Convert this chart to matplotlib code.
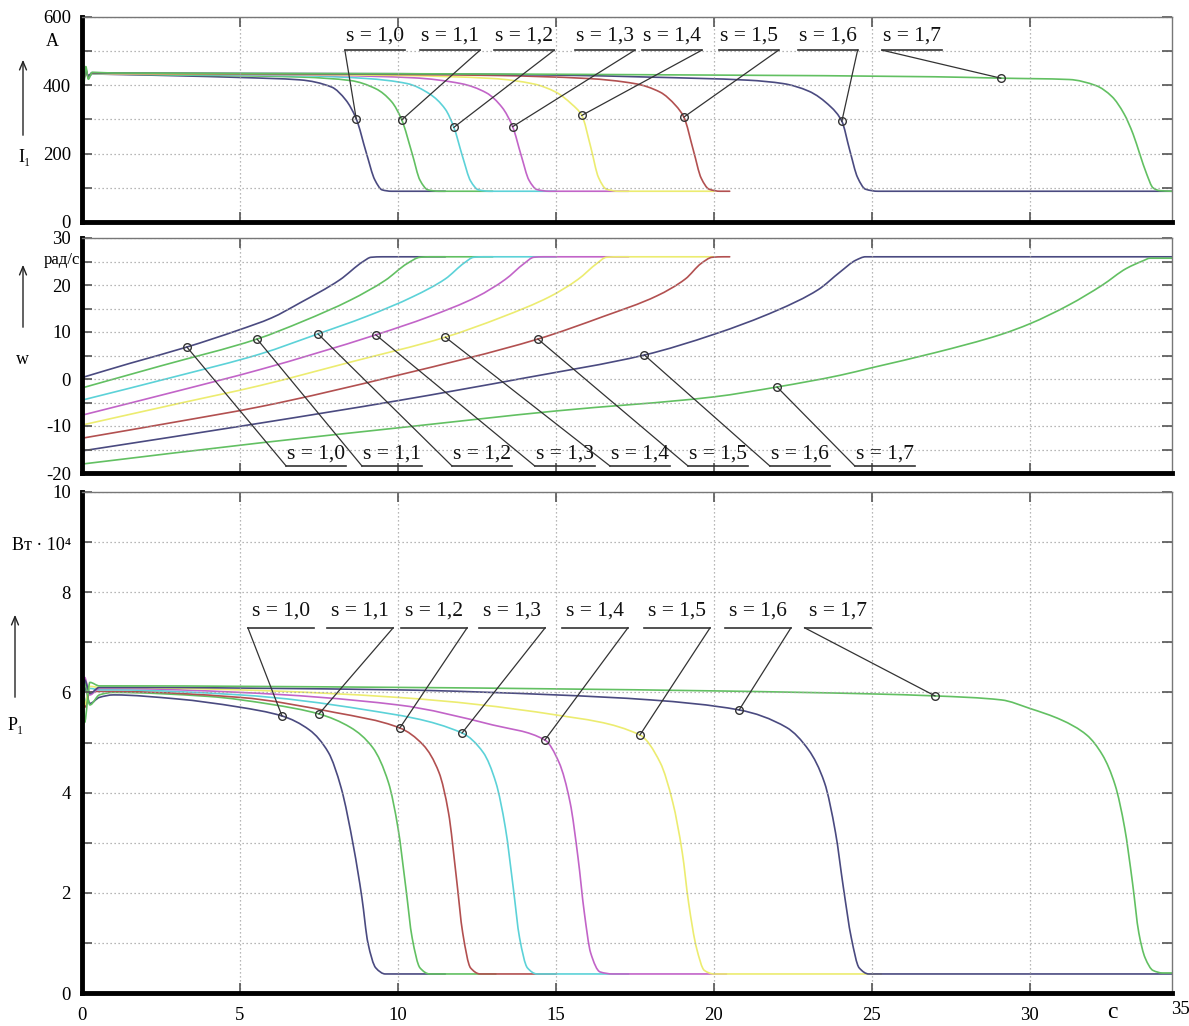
import numpy as np
import matplotlib
matplotlib.use("Agg")
import matplotlib.pyplot as plt
from matplotlib.path import Path
from matplotlib.patches import PathPatch, FancyArrowPatch

SERIF = ['Liberation Serif', 'DejaVu Serif']
plt.rcParams['font.family'] = SERIF

s_labels = ["s = 1,0", "s = 1,1", "s = 1,2", "s = 1,3", "s = 1,4", "s = 1,5", "s = 1,6", "s = 1,7"]

# ---------------- I1 (A) ----------------
I1_s10 = [(0,452),(0.05,418),(0.12,444),(0.2,425),(0.32,433),(1,432),(3,428),(5,423),(6.9,416),(7.9,395),(8.35,357),(8.68,302),(9.0,202),(9.27,123),(9.5,94),(9.8,90),(11.5,90)]
I1_s11 = [(0,445),(0.05,420),(0.12,442),(0.2,427),(0.32,433),(1,433),(3,430),(5,428),(7,424),(8.5,414),(9.3,390),(9.8,352),(10.12,299),(10.45,200),(10.7,122),(10.95,94),(11.3,90),(13,90)]
I1_s12 = [(0,460),(0.05,410),(0.12,448),(0.2,422),(0.32,434),(1,433),(4,431),(7,428),(9,420),(10.3,405),(11.0,375),(11.5,330),(11.77,277),(12.05,190),(12.3,120),(12.55,94),(12.9,90),(15,90)]
I1_s13 = [(0,448),(0.05,416),(0.12,443),(0.2,426),(0.32,435),(1,434),(5,432),(8,429),(10.5,422),(12.0,405),(12.8,378),(13.3,335),(13.63,279),(13.9,195),(14.15,122),(14.4,95),(14.8,90),(17.3,90)]
I1_s14 = [(0,455),(0.05,414),(0.12,445),(0.2,424),(0.32,435),(1,434),(6,432),(10,429),(13,420),(14.3,404),(15.0,380),(15.5,345),(15.82,312),(16.1,220),(16.35,130),(16.6,96),(17,90),(20,90)]
I1_s15 = [(0,450),(0.05,418),(0.12,443),(0.2,426),(0.32,436),(1,435),(8,433),(13,429),(16,420),(17.5,405),(18.3,380),(18.8,340),(19.05,307),(19.35,210),(19.6,128),(19.85,96),(20.2,90),(20.5,90)]
I1_s16 = [(0,446),(0.05,420),(0.12,441),(0.2,428),(0.32,437),(1,436),(10,434),(15,430),(18,424),(21.1,415),(22.2,405),(23.0,383),(23.7,337),(24.05,295),(24.3,210),(24.55,130),(24.8,96),(25.2,90),(34.5,90)]
I1_s17 = [(0,470),(0.05,400),(0.12,455),(0.2,418),(0.32,438),(1,436),(10,434),(20,430),(27,425),(29.08,421),(31.25,417),(32.1,399),(32.6,367),(32.98,317),(33.27,257),(33.48,199),(33.7,140),(33.9,100),(34.1,92),(34.5,90)]
I1_markers = [8.68, 10.12, 11.77, 13.63, 15.82, 19.05, 24.05, 29.08]

# ---------------- w (rad/s) ----------------
w_s10 = [(0,0.3),(1.5,3.3),(3.32,6.8),(4.95,10.4),(6.0,13.0),(6.9,16.2),(8.16,21.1),(8.9,25.0),(9.15,25.9),(9.5,26),(11.5,26)]
w_s11 = [(0,-1.9),(2.5,2.8),(5.54,8.5),(7,12.3),(8.5,16.8),(9.6,21.0),(10.3,24.6),(10.7,25.9),(11,26),(13,26)]
w_s12 = [(0,-4.5),(3,0.6),(5.63,5.3),(7.47,9.6),(9,13.3),(10.5,17.6),(11.5,21.3),(12.1,24.7),(12.4,25.9),(12.7,26),(15,26)]
w_s13 = [(0,-7.7),(3,-2.6),(5.63,2.0),(9.3,9.4),(11,13.3),(12.5,17.5),(13.4,21.2),(14.0,24.6),(14.3,25.9),(14.6,26),(17.3,26)]
w_s14 = [(0,-9.8),(3,-5.3),(5.63,-1.4),(8.5,3.6),(11.5,8.9),(13.3,13.2),(14.8,17.5),(15.7,21.2),(16.3,24.6),(16.6,25.9),(17,26),(20,26)]
w_s15 = [(0,-12.6),(3,-9.1),(5.63,-5.9),(10,0.8),(14.43,8.5),(16.5,13.3),(18.2,17.7),(19.1,21.3),(19.6,24.6),(19.95,25.9),(20.3,26),(20.5,26)]
w_s16 = [(0,-15.3),(5.63,-9.4),(10,-4.6),(14,0.2),(17.8,5.1),(20,9.5),(22,14.6),(23.3,19),(24.0,22.8),(24.5,25.3),(24.8,26),(34.5,26)]
w_s17 = [(0,-18.1),(5.63,-13.6),(10,-10.4),(15,-6.8),(20,-3.8),(22,-1.7),(24,0.8),(25,2.4),(27,5.6),(29.1,9.5),(30,11.75),(31.25,15.8),(32.3,20),(33.05,23.5),(33.6,25.2),(33.8,25.7),(34.5,25.7)]
w_markers = [3.32, 5.54, 7.47, 9.3, 11.5, 14.43, 17.8, 22.0]

# ---------------- P1 (W*10^4) ----------------
P_s10 = [(0,5.45),(0.08,6.1),(0.25,5.78),(0.55,5.9),(1,5.95),(3,5.87),(4.94,5.71),(6.33,5.53),(7.2,5.25),(7.8,4.8),(8.2,4.1),(8.6,2.9),(8.86,1.9),(9.05,1.0),(9.3,0.5),(9.6,0.38),(11.5,0.38)]
P_s11 = [(0,5.6),(0.08,6.2),(0.25,5.75),(0.55,5.95),(1,6.0),(4,5.92),(6,5.76),(7.5,5.57),(8.5,5.3),(9.2,4.9),(9.7,4.2),(10.0,3.3),(10.25,2.1),(10.45,1.1),(10.7,0.5),(11.0,0.38),(13.1,0.38)]
P_s12 = [(0,6.55),(0.08,5.7),(0.25,6.0),(0.55,6.02),(1,6.02),(5,5.9),(8,5.6),(10.06,5.29),(10.8,4.95),(11.3,4.4),(11.6,3.6),(11.85,2.3),(12.05,1.2),(12.3,0.5),(12.6,0.38),(15,0.38)]
P_s13 = [(0,6.3),(0.08,5.8),(0.25,6.08),(0.55,6.05),(1,6.05),(5,5.95),(9,5.65),(12.03,5.19),(12.7,4.8),(13.1,4.2),(13.4,3.3),(13.65,2.1),(13.85,1.1),(14.1,0.5),(14.4,0.38),(17.3,0.38)]
P_s14 = [(0,5.7),(0.08,6.3),(0.25,5.95),(0.55,6.08),(1,6.08),(5,6.0),(10,5.75),(13,5.35),(14.65,5.05),(15.1,4.6),(15.45,3.8),(15.7,2.7),(15.9,1.6),(16.1,0.8),(16.4,0.42),(16.8,0.38),(20.4,0.38)]
P_s15 = [(0,6.4),(0.08,5.75),(0.25,6.12),(0.55,6.1),(1,6.1),(5,6.05),(10,5.9),(15,5.55),(17.66,5.15),(18.3,4.6),(18.7,3.8),(19.0,2.8),(19.2,1.8),(19.45,0.9),(19.7,0.45),(20,0.38),(25.3,0.38)]
P_s16 = [(0,5.5),(0.08,6.25),(0.25,5.98),(0.55,6.1),(1,6.1),(10,6.05),(15,5.95),(18,5.85),(20.8,5.65),(22.3,5.3),(23.0,4.85),(23.5,4.2),(23.85,3.2),(24.1,2.1),(24.35,1.1),(24.6,0.5),(24.9,0.38),(34.5,0.38)]
P_s17 = [(0,6.6),(0.08,5.4),(0.25,6.2),(0.55,6.13),(1,6.13),(10,6.1),(20,6.03),(25,5.97),(27,5.93),(29.1,5.85),(30,5.68),(31,5.45),(31.8,5.15),(32.3,4.75),(32.7,4.15),(33.0,3.3),(33.25,2.2),(33.45,1.2),(33.65,0.7),(33.9,0.45),(34.2,0.4),(34.5,0.4)]
P_markers = [6.33, 7.5, 10.06, 12.03, 14.65, 17.66, 20.8, 27.0]

# colours
NAVY, GREEN, CYAN, MAG, YEL, RED = '#4a4a80', '#62c062', '#5cd2d8', '#c264c8', '#ecec70', '#b25050'
I1_colors = [NAVY, GREEN, CYAN, MAG, YEL, RED, NAVY, GREEN]
w_colors = [NAVY, GREEN, CYAN, MAG, YEL, RED, NAVY, GREEN]
P_colors = [NAVY, GREEN, RED, CYAN, MAG, YEL, NAVY, GREEN]

# label layout (data coords)
I1_lab_x = [9.27, 11.65, 14.0, 16.55, 18.67, 21.1, 23.6, 26.27]
I1_lab_side = ['left', 'right', 'right', 'right', 'right', 'right', 'right', 'left']
w_lab_x = [7.41, 9.81, 12.66, 15.28, 17.66, 20.13, 22.72, 25.41]
w_lab_side = ['left'] * 8
P_lab_x = [6.30, 8.80, 11.14, 13.61, 16.23, 18.83, 21.39, 23.92]
P_lab_side = ['left', 'right', 'right', 'right', 'right', 'right', 'right', 'left']

XMAX = 34.5
W, H = 1189, 1026
fig = plt.figure(figsize=(W / 100, H / 100), dpi=100)


def rect(x0, y0, x1, y1):
    return [x0 / W, 1 - y1 / H, (x1 - x0) / W, (y1 - y0) / H]


ax1 = fig.add_axes(rect(82, 17, 1172, 222))
ax2 = fig.add_axes(rect(82, 238, 1172, 473))
ax3 = fig.add_axes(rect(82, 492, 1172, 993))


def style(ax, ylim, ymajor, ygrid, xlabels):
    ax.set_xlim(0, XMAX)
    ax.set_ylim(*ylim)
    ax.set_yticks(ymajor)
    ax.set_yticklabels([str(v) for v in ymajor], fontsize=13.5)
    ax.set_yticks(ygrid, minor=True)
    ax.set_xticks(np.arange(0, 31, 5))
    ax.grid(True, which='both', axis='y', linestyle=(0, (1, 2.2)), color='#a0a0a0', lw=0.9)
    ax.grid(True, which='major', axis='x', linestyle=(0, (1, 2.2)), color='#a0a0a0', lw=0.9)
    for sp in ['left', 'bottom']:
        ax.spines[sp].set_linewidth(3.5)
        ax.spines[sp].set_color('black')
    for sp in ['top', 'right']:
        ax.spines[sp].set_linewidth(1.0)
        ax.spines[sp].set_color('#777777')
    ax.tick_params(axis='both', which='both', direction='in', length=7, width=1.2, color='#555555',
                   right=True, top=True, pad=8)
    ax.tick_params(axis='y', which='minor', length=7)
    if xlabels:
        ax.set_xticklabels([str(v) for v in range(0, 31, 5)], fontsize=13.5)
        ax.tick_params(axis='x', pad=10)
    else:
        ax.set_xticklabels([])


style(ax1, (0, 600), [0, 200, 400, 600], np.arange(0, 601, 100), False)
style(ax2, (-20, 30), [-20, -10, 0, 10, 20, 30], np.arange(-20, 31, 5), False)
style(ax3, (0, 10), [0, 2, 4, 6, 8, 10], np.arange(0, 11, 1), True)


def smooth_path(x, y):
    """Monotone (PCHIP-style) cubic Bezier path through the read points."""
    n = len(x)
    h = np.diff(x)
    d = np.diff(y) / h
    m = np.zeros(n)
    m[0], m[-1] = d[0], d[-1]
    for k in range(1, n - 1):
        if d[k - 1] * d[k] <= 0:
            m[k] = 0.0
        else:
            w1 = 2 * h[k] + h[k - 1]
            w2 = h[k] + 2 * h[k - 1]
            m[k] = (w1 + w2) / (w1 / d[k - 1] + w2 / d[k])
    verts = [(x[0], y[0])]
    codes = [Path.MOVETO]
    for k in range(n - 1):
        verts += [(x[k] + h[k] / 3, y[k] + m[k] * h[k] / 3),
                  (x[k + 1] - h[k] / 3, y[k + 1] - m[k + 1] * h[k] / 3),
                  (x[k + 1], y[k + 1])]
        codes += [Path.CURVE4] * 3
    return Path(verts, codes)


def draw(ax, series, colors):
    for s, c in zip(series, colors):
        a = np.array(s, dtype=float)
        ax.add_patch(PathPatch(smooth_path(a[:, 0], a[:, 1]), fill=False, edgecolor=c, lw=1.2,
                               capstyle='round', joinstyle='round'))


def labels(ax, series, markers, lab_x, text_y, under_y, sides, halfw=0.95):
    for s, mt, lx, side, txt in zip(series, markers, lab_x, sides, s_labels):
        a = np.array(s, dtype=float)
        mv = np.interp(mt, a[:, 0], a[:, 1])
        ax.text(lx, text_y, txt, ha='center', va='center', fontsize=15.5, family=SERIF, color='#111111')
        x0, x1 = lx - halfw, lx + halfw
        ax.plot([x0, x1], [under_y, under_y], color='#333333', lw=1.2)
        sx = x0 if side == 'left' else x1
        ax.plot([sx, mt], [under_y, mv], color='#333333', lw=0.9)
        ax.plot([mt], [mv], 'o', mfc='none', mec='#333333', ms=5.5, mew=1.0)


I1_series = [I1_s10, I1_s11, I1_s12, I1_s13, I1_s14, I1_s15, I1_s16, I1_s17]
w_series = [w_s10, w_s11, w_s12, w_s13, w_s14, w_s15, w_s16, w_s17]
P_series = [P_s10, P_s11, P_s12, P_s13, P_s14, P_s15, P_s16, P_s17]

draw(ax1, I1_series, I1_colors)
draw(ax2, w_series, w_colors)
draw(ax3, P_series, P_colors)

labels(ax1, I1_series, I1_markers, I1_lab_x, 543, 503, I1_lab_side)
labels(ax2, w_series, w_markers, w_lab_x, -15.9, -18.5, w_lab_side, halfw=0.95)
labels(ax3, P_series, P_markers, P_lab_x, 7.63, 7.29, P_lab_side, halfw=1.05)


# side labels & arrows (figure pixel positions)
def ftxt(x, y, s, size=13.5, **kw):
    fig.text(x / W, 1 - y / H, s, ha='center', va='center', fontsize=size, family=SERIF, **kw)


def farrow(x, y0, y1):
    fig.add_artist(FancyArrowPatch((x / W, 1 - y0 / H), (x / W, 1 - y1 / H),
                   transform=fig.transFigure, arrowstyle='->,head_length=6,head_width=2.5',
                   color='#222222', lw=1.0))


ftxt(1180, 1009, '35', 13.5)
ftxt(1112, 1013, 'c', 17)
ftxt(52, 42, 'A', 13)
farrow(23, 138, 57)
ftxt(25, 157, 'I\u2081', 13)
ftxt(62, 260, 'рад/с', 12)
farrow(23, 330, 262)
ftxt(22, 360, 'w', 13)
ftxt(42, 545, 'Вт · 10\u2074', 13)
farrow(15, 700, 612)
ftxt(16, 725, 'P\u2081', 13)

fig.savefig('out.png', dpi=100)
